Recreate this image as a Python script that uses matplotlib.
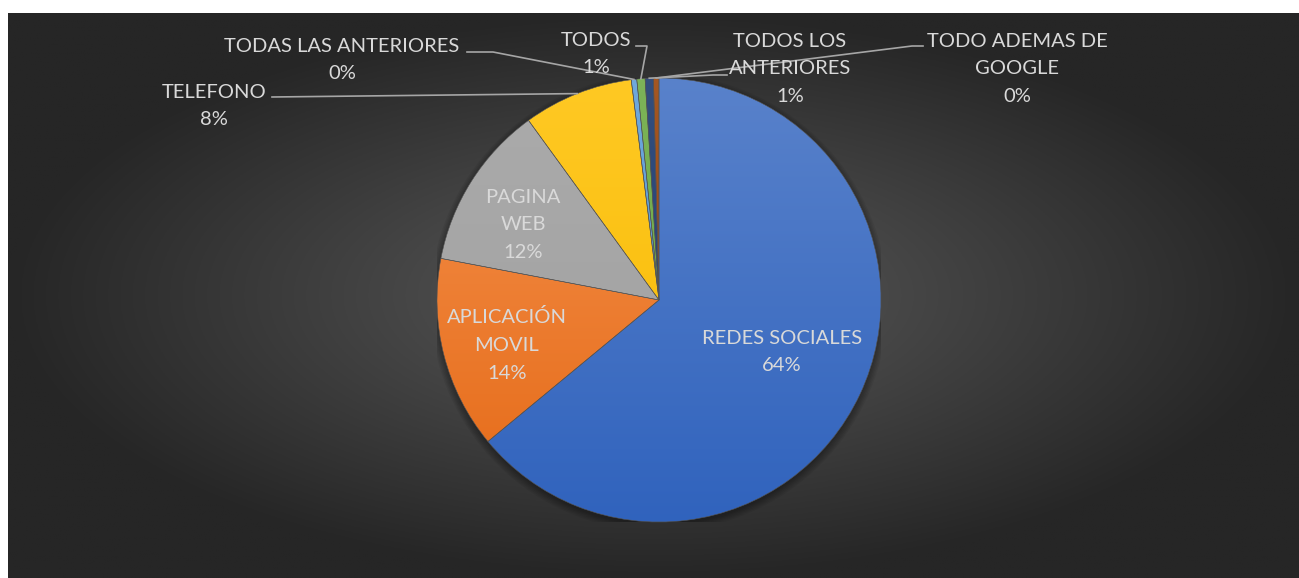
import numpy as np
import matplotlib.pyplot as plt
from matplotlib.colors import to_rgb, rgb_to_hsv, hsv_to_rgb
from matplotlib.patches import Circle

# Respuestas de la encuesta (porcentaje del total)
categorias = ['REDES SOCIALES', 'APLICACIÓN MOVIL', 'PAGINA WEB', 'TELEFONO',
              'TODAS LAS ANTERIORES', 'TODOS', 'TODOS LOS ANTERIORES',
              'TODO ADEMAS DE GOOGLE']
etiquetas = ['REDES SOCIALES', 'APLICACIÓN\nMOVIL', 'PAGINA\nWEB', 'TELEFONO',
             'TODAS LAS ANTERIORES', 'TODOS', 'TODOS LOS\nANTERIORES',
             'TODO ADEMAS DE\nGOOGLE']
porcentajes = [64, 14, 12, 8, 0.4, 0.6, 0.6, 0.4]
colores = ['#4472C4', '#ED7D31', '#A5A5A5', '#FFC000',
           '#5B9BD5', '#70AD47', '#264478', '#9E480E']

W, H = 1299, 578
fig = plt.figure(figsize=(W / 100, H / 100), dpi=100)
fig.patch.set_facecolor('white')

# fondo oscuro con degradado radial
bg = fig.add_axes([8 / W, 0, 1 - 8 / W, 1 - 13 / H])
bg.set_axis_off()
yy, xx = np.mgrid[-1:1:300j, -1:1:650j]
r = np.clip(np.hypot(xx, yy), 0, 1)
gris = (0x5a + (0x26 - 0x5a) * r) / 255
bg.imshow(np.dstack([gris, gris, gris]), extent=(0, 1, 0, 1), aspect='auto')

# ejes del pastel (centro y radio en pixeles)
cx, cy, R = 659, 300, 222
ax = fig.add_axes([(cx - R) / W, (H - cy - R) / H, 2 * R / W, 2 * R / H])
wedges, _ = ax.pie(porcentajes, colors=colores, startangle=90, counterclock=False,
                   radius=1, wedgeprops=dict(linewidth=0.4, edgecolor='#555555'))
ax.set_axis_off()

# sombra suave bajo el pastel
for k in range(6):
    ax.add_patch(Circle((0, -0.012), 1 + 0.006 * k, color='black',
                        alpha=0.06, lw=0, zorder=0.5))


def degradado(c, f):
    h, s, v = rgb_to_hsv(np.array(to_rgb(c)))
    return hsv_to_rgb([h, min(s * f, 1), min(v * (1 + (1 - f) * 0.25), 1)])


# degradado vertical dentro de cada porcion
t = np.linspace(0, 1, 256)[:, None, None]
for w, c in zip(wedges, colores):
    arriba = degradado(c, 0.86)
    abajo = degradado(c, 1.14)
    img = arriba * (1 - t) + abajo * t
    im = ax.imshow(img, extent=(-1, 1, -1, 1), aspect='auto', zorder=1)
    im.set_clip_path(w)
    w.set_facecolor('none')
    w.set_zorder(2)
ax.set_xlim(-1, 1)
ax.set_ylim(-1, 1)


def px(x, y):
    return (x - cx) / R, (cy - y) / R


texto = dict(ha='center', va='center', color='#d9d9d9', fontsize=14.5,
             family='Lato', linespacing=1.76, clip_on=False, zorder=5)

# posicion de cada etiqueta
pos_etiqueta = [(782, 352), (507, 345), (523, 225), (214, 106),
                (342, 60), (596, 54), (790, 69), (1017, 69)]
# quiebres de las lineas guia de las etiquetas externas
guias = {3: [(272, 97)],
         4: [(467, 52), (493, 52)],
         5: [(636, 46), (647, 46)],
         6: [(727, 75), (713, 75)],
         7: [(923, 46), (912, 46)]}

for i, (w, p) in enumerate(zip(wedges, porcentajes)):
    ax.text(*px(*pos_etiqueta[i]), f'{etiquetas[i]}\n{p:.0f}%', **texto)
    if i in guias:
        mid = np.deg2rad((w.theta1 + w.theta2) / 2)
        pts = [px(*q) for q in guias[i]] + [(np.cos(mid), np.sin(mid))]
        xs, ys = zip(*pts)
        ax.plot(xs, ys, color='#a6a6a6', lw=1.2, clip_on=False, zorder=4)

fig.savefig('out.png', dpi=100)
